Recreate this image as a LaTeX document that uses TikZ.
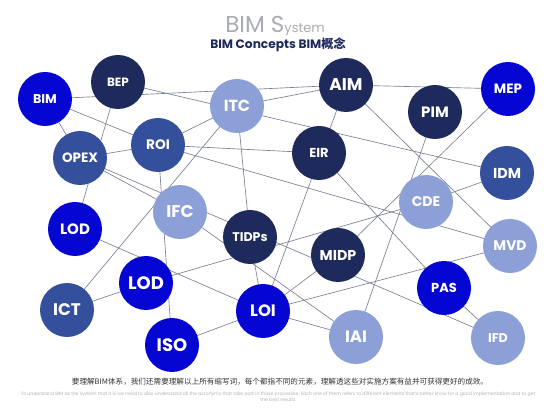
\documentclass[tikz,border=0pt]{standalone}
\usepackage{fontspec}
\setmainfont{Poppins}
\newfontfamily\cjk{Noto Sans CJK SC}
\usetikzlibrary{backgrounds}
\definecolor{cNavy}{HTML}{1D2A5B}
\definecolor{cBright}{HTML}{0606D2}
\definecolor{cMid}{HTML}{34509C}
\definecolor{cLight}{HTML}{8C9FD6}
\definecolor{cLine}{HTML}{7A8194}
\definecolor{cTitle}{HTML}{AAACB4}
\newcommand\fsz[1]{\fontsize{#1}{#1}\selectfont}
\tikzset{
  bub/.style={circle, minimum size=54pt, inner sep=0pt, text=white},
  navy/.style={bub, fill=cNavy},
  bright/.style={bub, fill=cBright},
  mid/.style={bub, fill=cMid},
  light/.style={bub, fill=cLight},
  link/.style={draw=cLine, line width=0.65pt},
  lbl/.style={font=\bfseries\fsz{#1}}
}
\begin{document}
\begin{tikzpicture}[x=1pt,y=-1pt]
\useasboundingbox (0,0) rectangle (557,419);
% titles
\node[anchor=base, text=cTitle, inner sep=0pt] (ttl) at (275,33) {\fsz{23}BIM S\fsz{13}ystem};
\node[anchor=base, text=cNavy, inner sep=0pt, font=\bfseries\fsz{12.2}] (sub) at (278,49) {BIM Concepts BIM{\cjk\bfseries 概念}};
% nodes
\node[bright, lbl=12.7] (BIM) at (45,99) {BIM};
\node[navy, lbl=12] (BEP) at (118,82) {BEP};
\node[light, lbl=16] (ITC) at (237,106) {ITC};
\node[navy, lbl=17] (AIM) at (346,85) {AIM};
\node[navy, lbl=15] (PIM) at (435,112) {PIM};
\node[bright, lbl=13.5] (MEP) at (508,89) {MEP};
\node[mid, lbl=13.7] (ROI) at (158,145) {ROI};
\node[mid, lbl=13.5] (OPEX) at (80,158) {OPEX};
\node[navy, lbl=13] (EIR) at (319,153) {EIR};
\node[mid, lbl=14.4] (IDM) at (507,173) {IDM};
\node[light, lbl=14] (CDE) at (426,202) {CDE};
\node[light, lbl=17] (IFC) at (180,212) {IFC};
\node[bright, lbl=15] (LODa) at (75,229) {LOD};
\node[navy, lbl=12.6] (TIDPs) at (250,237) {TIDPs};
\node[navy, lbl=14.3] (MIDP) at (338,255) {MIDP};
\node[light, lbl=13.9] (MVD) at (510,246) {MVD};
\node[bright, lbl=18] (LODb) at (146,283) {LOD};
\node[mid, lbl=16.8] (ICT) at (67,310) {ICT};
\node[bright, lbl=16.5] (LOI) at (263,311) {LOI};
\node[bright, lbl=13] (PAS) at (444,288) {PAS};
\node[bright, lbl=18] (ISO) at (172,345) {ISO};
\node[light, lbl=16.5] (IAI) at (356,337) {IAI};
\node[light, lbl=12.6] (IFD) at (498,338) {IFD};
% bottom texts
\node[anchor=base, inner sep=0pt, text=black!80] (zh) at (280,385) {\cjk\fsz{7.6}要理解BIM体系，我们还需要理解以上所有缩写词，每个都指不同的元素，理解透这些对实施方案有益并可获得更好的成效。};
\node[anchor=north, inner sep=0pt, text=black!30, align=center, font=\fsz{4.6}] (en) at (278,392) {To understand BIM as the system that it is we need to also understand all the acronyms that take part in those processes. Each one of them refers to different elements that's better know for a good implementation and to get\\the best results};
% connectors
\begin{scope}[on background layer]
\fill[white] (0,0) rectangle (557,419);
\foreach \a/\b in {BIM/AIM, BEP/IDM, ITC/AIM, BIM/ROI, BIM/OPEX, BEP/LODa, OPEX/ROI, OPEX/IFC, OPEX/IFD,
  ROI/ITC, ROI/EIR, ROI/MVD, ROI/ISO, ITC/ICT, ITC/TIDPs, AIM/LOI, AIM/MEP, AIM/MVD, PIM/IAI,
  MEP/MIDP, IDM/CDE, EIR/PAS, LODa/LOI, LODb/CDE, LODb/ICT, ISO/LOI, TIDPs/LOI, IFC/IAI,
  LOI/MIDP, LOI/MVD, LOI/IAI, PAS/IFD}
  \draw[link] (\a.center) -- (\b.center);
\end{scope}
\end{tikzpicture}
\end{document}
